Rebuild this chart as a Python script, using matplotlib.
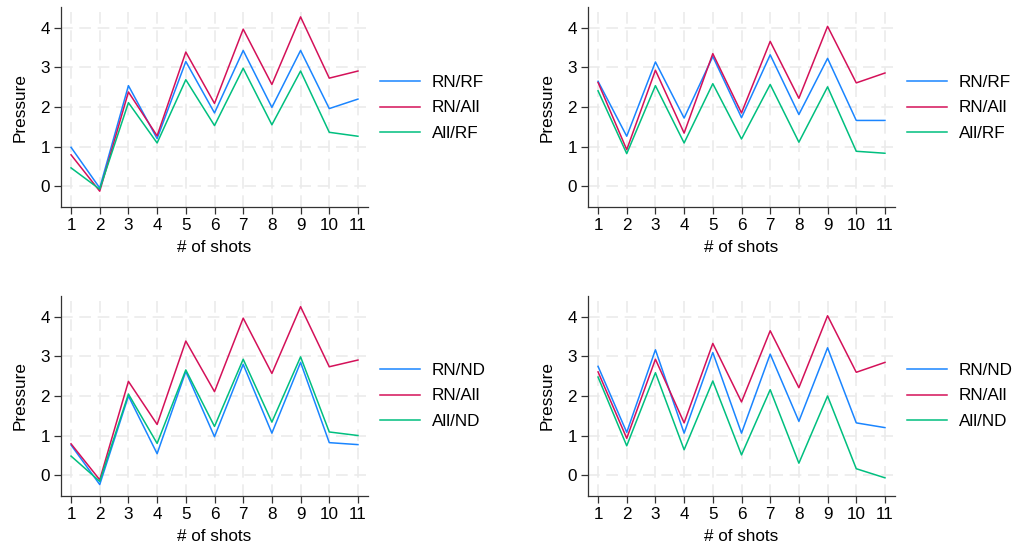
import matplotlib.pyplot as plt

plt.rcParams["font.family"] = ["Liberation Sans", "DejaVu Sans"]

shots = list(range(1, 12))

# top-left panel
tl_rn_rf = [0.98, -0.05, 2.54, 1.20, 3.15, 1.85, 3.43, 1.99, 3.43, 1.96, 2.20]
tl_rn_all = [0.79, -0.13, 2.38, 1.27, 3.39, 2.09, 3.97, 2.57, 4.28, 2.73, 2.91]
tl_all_rf = [0.46, -0.08, 2.11, 1.09, 2.69, 1.53, 2.98, 1.55, 2.91, 1.36, 1.26]

# top-right panel
tr_rn_rf = [2.65, 1.26, 3.14, 1.72, 3.28, 1.73, 3.32, 1.81, 3.23, 1.66, 1.66]
tr_rn_all = [2.62, 0.92, 2.93, 1.34, 3.35, 1.85, 3.66, 2.22, 4.04, 2.61, 2.86]
tr_all_rf = [2.41, 0.82, 2.54, 1.09, 2.59, 1.19, 2.57, 1.11, 2.51, 0.88, 0.83]

# bottom-left panel
bl_rn_nd = [0.76, -0.24, 2.00, 0.54, 2.62, 0.97, 2.80, 1.06, 2.85, 0.82, 0.77]
bl_rn_all = [0.79, -0.12, 2.37, 1.28, 3.39, 2.11, 3.97, 2.57, 4.26, 2.74, 2.91]
bl_all_nd = [0.48, -0.16, 2.05, 0.80, 2.66, 1.23, 2.93, 1.34, 2.99, 1.09, 1.00]

# bottom-right panel
br_rn_nd = [2.75, 1.08, 3.17, 1.06, 3.10, 1.06, 3.06, 1.36, 3.22, 1.32, 1.20]
br_rn_all = [2.61, 0.93, 2.93, 1.32, 3.33, 1.85, 3.65, 2.21, 4.03, 2.60, 2.85]
br_all_nd = [2.48, 0.74, 2.59, 0.64, 2.38, 0.51, 2.16, 0.30, 2.00, 0.16, -0.07]

BLUE = "#1a85ff"
RED = "#d41159"
GREEN = "#00bf7f"

W, H = 1014, 549
FS = 12.3


def panel(fig, left, top, series, labels, leg_y):
    ax = fig.add_axes([left / W, (H - top - 200) / H, 307 / W, 200 / H])
    for ys, lab, col in zip(series, labels, [BLUE, RED, GREEN]):
        ax.plot(shots, ys, color=col, lw=1.1, label=lab)
    ax.set_xlim(0.65, 11.35)
    ax.set_ylim(-0.53, 4.53)
    ax.set_xticks(shots)
    ax.set_yticks([0, 1, 2, 3, 4])
    ax.grid(True, color="#ebebeb", lw=1.2, ls=(0, (7, 4)))
    ax.set_axisbelow(True)
    for s in ("top", "right"):
        ax.spines[s].set_visible(False)
    for s in ("left", "bottom"):
        ax.spines[s].set_color("#333333")
        ax.spines[s].set_linewidth(0.9)
    ax.tick_params(labelsize=FS, length=5, width=0.9, color="#333333", pad=3)
    ax.set_xlabel("# of shots", fontsize=FS, labelpad=5)
    ax.set_ylabel("Pressure", fontsize=FS, labelpad=9)
    ax.legend(loc="center left", bbox_to_anchor=(1.04, leg_y), frameon=False,
              fontsize=FS, handlelength=2.3, handletextpad=0.7,
              labelspacing=0.6, borderpad=0, borderaxespad=0)
    return ax


fig = plt.figure(figsize=(W / 100, H / 100), dpi=100)
panel(fig, 61, 7, [tl_rn_rf, tl_rn_all, tl_all_rf], ["RN/RF", "RN/All", "All/RF"], 0.495)
panel(fig, 588, 7, [tr_rn_rf, tr_rn_all, tr_all_rf], ["RN/RF", "RN/All", "All/RF"], 0.495)
panel(fig, 61, 296, [bl_rn_nd, bl_rn_all, bl_all_nd], ["RN/ND", "RN/All", "All/ND"], 0.5)
panel(fig, 588, 296, [br_rn_nd, br_rn_all, br_all_nd], ["RN/ND", "RN/All", "All/ND"], 0.5)

fig.savefig("out.png", dpi=100)
